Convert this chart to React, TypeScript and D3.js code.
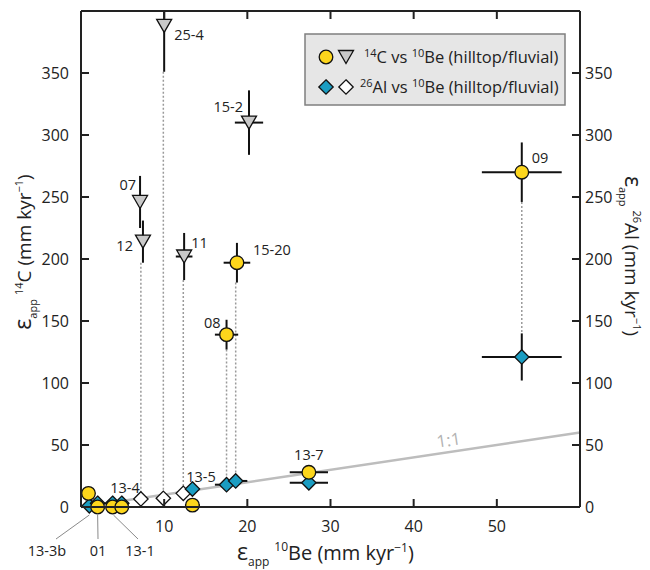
import React from "react";
import * as d3 from "d3";

// ---- data ----
// 14C vs 10Be, hilltop (circles)
const hillC_names = ["13-3b", "01", "13-1a", "13-1b", "13-5", "08", "15-20", "13-7", "09"];
const hillC_x = [0.9, 2.0, 3.8, 4.9, 13.4, 17.5, 18.75, 27.4, 53.0];
const hillC_xErr = [0, 0, 0, 0, 0.9, 1.4, 1.6, 2.3, 4.8];
const hillC_y = [11, 0, 0, 0, 1.5, 139, 197, 28, 270];
const hillC_yErr = [0, 0, 0, 0, 0, 12, 16, 0, 24];

// 14C vs 10Be, fluvial (triangles)
const fluvC_names = ["07", "12", "25-4", "11", "15-2"];
const fluvC_x = [7.1, 7.45, 10.0, 12.4, 20.2];
const fluvC_xErr = [0, 0, 0, 1.0, 1.7];
const fluvC_y = [246, 214, 388, 202, 310];
const fluvC_yErr = [21, 17, 37, 19, 26];

// 26Al vs 10Be, hilltop (blue diamonds)
const hillAl_names = ["13-3b", "01", "13-1a", "13-1b", "13-5", "08", "15-20", "13-7", "09"];
const hillAl_x = [1.0, 2.0, 3.8, 4.9, 13.4, 17.5, 18.6, 27.4, 53.0];
const hillAl_xErr = [0, 0, 0, 0, 0, 1.4, 1.4, 2.3, 4.8];
const hillAl_y = [1, 3, 3, 3, 14.5, 18, 21, 19.5, 121];
const hillAl_yErr = [0, 0, 0, 0, 0, 0, 0, 0, 19];

// 26Al vs 10Be, fluvial (white diamonds)
const fluvAl_names = ["12", "25-4", "11"];
const fluvAl_x = [7.2, 9.9, 12.3];
const fluvAl_y = [6.5, 7, 11];

// dotted connectors (sample names present in both sets)
const linkNames = ["12", "25-4", "11", "08", "15-20", "09"];

const yTicks = [0, 50, 100, 150, 200, 250, 300, 350];
const xTicks = [10, 20, 30, 40, 50];

const W = 650, H = 570;
const L = 81, R = 580, T = 11, B = 507;
const FONT = "'Open Sans', 'Noto Sans', sans-serif";

const x = d3.scaleLinear().domain([0, 60]).range([L, R]);
const y = d3.scaleLinear().domain([0, 400]).range([B, T]);
const y2 = d3.scaleLinear().domain([0, 400]).range([B, T]);

const YELLOW = "#fdd61c";
const BLUE = "#1b9dc2";
const GREYTRI = "#c9c9c9";

function Circle({ cx, cy }: { cx: number; cy: number }) {
  return <circle cx={cx} cy={cy} r={6.8} fill={YELLOW} stroke="#111" strokeWidth={1.3} />;
}
function Tri({ cx, cy }: { cx: number; cy: number }) {
  const w = 7.5, h = 13;
  const p = `M${cx - w},${cy - h / 2} L${cx + w},${cy - h / 2} L${cx},${cy + h / 2} Z`;
  return <path d={p} fill={GREYTRI} stroke="#111" strokeWidth={1.3} />;
}
function Dia({ cx, cy, fill }: { cx: number; cy: number; fill: string }) {
  const s = 7.2;
  const p = `M${cx},${cy - s} L${cx + s},${cy} L${cx},${cy + s} L${cx - s},${cy} Z`;
  return <path d={p} fill={fill} stroke="#111" strokeWidth={1.3} />;
}

function ErrBars({ xs, ys, xe, ye, yScale }: any) {
  return (
    <g stroke="#111" strokeWidth={2}>
      {xs.map((v: number, i: number) => (
        <g key={i}>
          {xe[i] > 0 && (
            <line x1={x(v - xe[i])} x2={x(v + xe[i])} y1={yScale(ys[i])} y2={yScale(ys[i])} />
          )}
          {ye[i] > 0 && (
            <line x1={x(v)} x2={x(v)} y1={yScale(ys[i] - ye[i])} y2={yScale(ys[i] + ye[i])} />
          )}
        </g>
      ))}
    </g>
  );
}

export default function App() {
  // connectors
  const links = linkNames.map((n) => {
    let top: number, topErr: number;
    const ci = hillC_names.indexOf(n);
    const fi = fluvC_names.indexOf(n);
    if (ci >= 0) { top = hillC_y[ci]; topErr = hillC_yErr[ci]; }
    else { top = fluvC_y[fi]; topErr = fluvC_yErr[fi]; }
    const ai = hillAl_names.indexOf(n);
    const bi = fluvAl_names.indexOf(n);
    let ax: number, ay: number, aErr: number;
    if (ai >= 0) { ax = hillAl_x[ai]; ay = hillAl_y[ai]; aErr = hillAl_yErr[ai]; }
    else { ax = fluvAl_x[bi]; ay = fluvAl_y[bi]; aErr = 0; }
    return { x: ax, y1: y(top - topErr), y2: y2(ay + aErr) - (aErr > 0 ? 0 : 7) };
  });

  const angle = (Math.atan2(y(60) - y(0), x(60) - x(0)) * 180) / Math.PI;

  const lbl = { fontFamily: FONT, fontSize: 14.5, fill: "#222" } as const;

  return (
    <svg width={W} height={H} style={{ position: "absolute", left: 0, top: 0 }}>
      <defs>
        <clipPath id="plot">
          <rect x={L} y={T} width={R - L} height={B - T} />
        </clipPath>
      </defs>
      <rect width={W} height={H} fill="#fff" />

      {/* 1:1 line */}
      <line x1={x(0)} y1={y(0)} x2={x(60)} y2={y(60)} stroke="#bdbdbd" strokeWidth={2.5} />
      <text
        transform={`translate(${x(44.3)},${y(44.3) - 6}) rotate(${angle})`}
        textAnchor="middle"
        fontFamily={FONT}
        fontSize={17}
        fill="#b3b3b3"
      >
        1:1
      </text>

      {/* dotted connectors */}
      <g stroke="#9a9a9a" strokeWidth={1.5} strokeDasharray="2,2">
        {links.map((l, i) => (
          <line key={i} x1={x(l.x)} x2={x(l.x)} y1={l.y1} y2={l.y2} />
        ))}
      </g>

      <g clipPath="url(#plot)">
        <ErrBars xs={fluvC_x} ys={fluvC_y} xe={fluvC_xErr} ye={fluvC_yErr} yScale={y} />
        <ErrBars xs={hillC_x} ys={hillC_y} xe={hillC_xErr} ye={hillC_yErr} yScale={y} />
        <ErrBars xs={hillAl_x} ys={hillAl_y} xe={hillAl_xErr} ye={hillAl_yErr} yScale={y2} />
      </g>

      {/* markers */}
      {fluvAl_x.map((v, i) => (
        <Dia key={"fa" + i} cx={x(v)} cy={y2(fluvAl_y[i])} fill="#fff" />
      ))}
      {hillAl_x.map((v, i) => (
        <Dia key={"ha" + i} cx={x(v)} cy={y2(hillAl_y[i])} fill={BLUE} />
      ))}
      {fluvC_x.map((v, i) => (
        <Tri key={"fc" + i} cx={x(v)} cy={y(fluvC_y[i])} />
      ))}
      {hillC_x.map((v, i) => (
        <Circle key={"hc" + i} cx={x(v)} cy={y(hillC_y[i])} />
      ))}

      {/* axes frame */}
      <g stroke="#222" strokeWidth={2} fill="none">
        <line x1={L} y1={T} x2={L} y2={B} />
        <line x1={R} y1={T} x2={R} y2={B} />
        <line x1={L} y1={B} x2={R} y2={B} />
        <line x1={L} y1={T} x2={R} y2={T} />
        {yTicks.map((t) => (
          <g key={"yt" + t}>
            <line x1={L} x2={L + 8} y1={y(t)} y2={y(t)} />
            <line x1={R} x2={R - 8} y1={y2(t)} y2={y2(t)} />
          </g>
        ))}
        {xTicks.map((t) => (
          <g key={"xt" + t}>
            <line x1={x(t)} x2={x(t)} y1={B} y2={B - 8} />
            <line x1={x(t)} x2={x(t)} y1={T} y2={T + 8} />
          </g>
        ))}
      </g>

      {/* tick labels */}
      <g fontFamily={FONT} fontSize={16} fill="#222">
        {yTicks.map((t) => (
          <text key={"yl" + t} x={L - 12} y={y(t)} dy="0.35em" textAnchor="end">{t}</text>
        ))}
        {yTicks.map((t) => (
          <text key={"y2l" + t} x={R + 5} y={y2(t)} dy="0.35em" textAnchor="start">{t}</text>
        ))}
        {xTicks.map((t) => (
          <text key={"xl" + t} x={x(t)} y={B + 19} dy="0.35em" textAnchor="middle">{t}</text>
        ))}
      </g>

      {/* axis titles */}
      <text x={237} y={560} fontFamily={FONT} fill="#222">
        <tspan fontSize={23}>ε</tspan>
        <tspan fontSize={12} dy={6}>app</tspan>
        <tspan fontSize={12} dy={-15} dx={5}>10</tspan>
        <tspan fontSize={20} dy={9}>Be (mm kyr</tspan>
        <tspan fontSize={12} dy={-8}>−1</tspan>
        <tspan fontSize={20} dy={8}>)</tspan>
      </text>
      <text transform="translate(31,252) rotate(-90)" textAnchor="middle" fontFamily={FONT} fill="#222">
        <tspan fontSize={23}>ε</tspan>
        <tspan fontSize={11} dy={6}>app</tspan>
        <tspan fontSize={11} dy={-14} dx={4}>14</tspan>
        <tspan fontSize={19} dy={8}>C (mm kyr</tspan>
        <tspan fontSize={11} dy={-8}>−1</tspan>
        <tspan fontSize={19} dy={8}>)</tspan>
      </text>
      <text transform="translate(625,256) rotate(90)" textAnchor="middle" fontFamily={FONT} fill="#222">
        <tspan fontSize={23}>ε</tspan>
        <tspan fontSize={11} dy={6}>app</tspan>
        <tspan fontSize={11} dy={-14} dx={4}>26</tspan>
        <tspan fontSize={19} dy={8}>Al (mm kyr</tspan>
        <tspan fontSize={11} dy={-8}>−1</tspan>
        <tspan fontSize={19} dy={8}>)</tspan>
      </text>

      {/* point labels */}
      <g {...lbl}>
        <text x={x(10.0) + 10} y={35} dy="0.35em">25-4</text>
        <text x={x(20.2) - 6} y={107} dy="0.35em" textAnchor="end">15-2</text>
        <text x={x(7.1) - 4} y={185} dy="0.35em" textAnchor="end">07</text>
        <text x={x(7.45) - 10} y={246} dy="0.35em" textAnchor="end">12</text>
        <text x={x(12.4) + 7} y={243} dy="0.35em">11</text>
        <text x={x(18.75) + 16} y={250} dy="0.35em">15-20</text>
        <text x={x(17.5) - 6} y={323} dy="0.35em" textAnchor="end">08</text>
        <text x={x(53) + 10} y={158} dy="0.35em">09</text>
        <text x={x(27.4)} y={455} dy="0.35em" textAnchor="middle">13-7</text>
        <text x={201} y={477} dy="0.35em" textAnchor="middle">13-5</text>
        <text x={125} y={488} dy="0.35em" textAnchor="middle">13-4</text>
        <text x={47} y={551} dy="0.35em" textAnchor="middle">13-3b</text>
        <text x={98} y={551} dy="0.35em" textAnchor="middle">01</text>
        <text x={140} y={551} dy="0.35em" textAnchor="middle">13-1</text>
      </g>
      <g stroke="#8a8a8a" strokeWidth={1}>
        <line x1={56} y1={539} x2={x(1.0)} y2={515} />
        <line x1={98} y1={539} x2={x(2.0)} y2={515} />
        <line x1={138} y1={539} x2={x(3.9)} y2={515} />
      </g>

      {/* legend */}
      <rect x={305} y={34} width={260} height={71} fill="#e6e6e6" stroke="#7f7f7f" strokeWidth={1.5} />
      <Circle cx={326} cy={57} />
      <Tri cx={346} cy={57} />
      <Dia cx={326} cy={87} fill={BLUE} />
      <Dia cx={346} cy={87} fill="#fff" />
      <g fontFamily={FONT} fill="#222">
        <text x={364} y={63}>
          <tspan fontSize={11} dy={-6}>14</tspan>
          <tspan fontSize={16.5} dy={6}>C vs </tspan>
          <tspan fontSize={11} dy={-6}>10</tspan>
          <tspan fontSize={16.5} dy={6}>Be (hilltop/fluvial)</tspan>
        </text>
        <text x={360} y={93}>
          <tspan fontSize={11} dy={-6}>26</tspan>
          <tspan fontSize={16.5} dy={6}>Al vs </tspan>
          <tspan fontSize={11} dy={-6}>10</tspan>
          <tspan fontSize={16.5} dy={6}>Be (hilltop/fluvial)</tspan>
        </text>
      </g>
    </svg>
  );
}
